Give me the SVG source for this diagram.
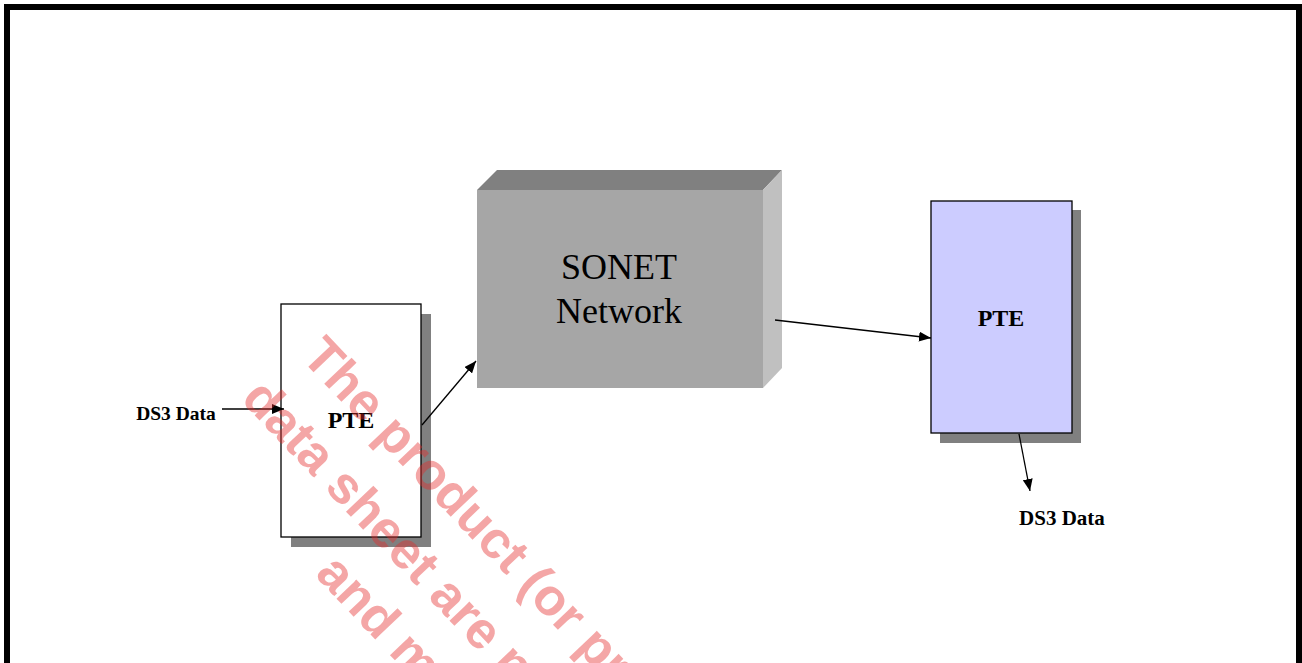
<svg xmlns="http://www.w3.org/2000/svg" width="1302" height="663" viewBox="0 0 1302 663">
<defs>
<style>
.lbl{font-family:"Liberation Serif","Times New Roman",serif;font-weight:bold;fill:#000}
.big{font-family:"Liberation Serif","Times New Roman",serif;font-size:36px;fill:#000}
.conn{stroke:#000;stroke-width:1.3;fill:none}
.wm{font-family:"Liberation Sans",Arial,sans-serif;font-size:52px;font-weight:bold;fill:#e42a2a;fill-opacity:0.42}
</style>
<marker id="arr" viewBox="0 0 12 10" refX="12" refY="5" markerWidth="12" markerHeight="10" markerUnits="userSpaceOnUse" orient="auto">
<path d="M0,0 L12,5 L0,10 Z" fill="#000"/>
</marker>
</defs>
<rect x="0" y="0" width="1302" height="663" fill="#fff"/>
<rect x="7" y="7" width="1292" height="720" fill="none" stroke="#000" stroke-width="6"/>

<g id="pte-left">
<rect x="291" y="314" width="140" height="233" fill="#808080"/>
<rect x="281" y="304" width="140" height="233" fill="#fff" stroke="#000" stroke-width="1.3"/>
<text class="lbl" x="351" y="428" font-size="24" text-anchor="middle">PTE</text>
</g>

<g id="sonet">
<polygon points="477,190 497,170 782,170 763,190" fill="#808080"/>
<polygon points="763,190 782,170 782,368 763,388" fill="#c0c0c0"/>
<rect x="477" y="190" width="286" height="198" fill="#a6a6a6"/>
<text class="big" x="619" y="279" text-anchor="middle">SONET</text>
<text class="big" x="619" y="323" text-anchor="middle">Network</text>
</g>

<g id="pte-right">
<rect x="940" y="210" width="141" height="233" fill="#808080"/>
<rect x="931" y="201" width="141" height="232" fill="#ccccff" stroke="#000" stroke-width="1.3"/>
<text class="lbl" x="1001" y="326" font-size="24" text-anchor="middle">PTE</text>
</g>

<g id="label-ds3-in">
<text class="lbl" x="176" y="420" font-size="19.5" text-anchor="middle">DS3 Data</text>
</g>
<g id="label-ds3-out">
<text class="lbl" x="1062" y="525" font-size="21" text-anchor="middle">DS3 Data</text>
</g>

<g id="connectors">
<line class="conn" x1="222" y1="409" x2="284" y2="409" marker-end="url(#arr)"/>
<line class="conn" x1="422" y1="425" x2="476" y2="361" marker-end="url(#arr)"/>
<line class="conn" x1="775" y1="320" x2="931" y2="338" marker-end="url(#arr)"/>
<line class="conn" x1="1019" y1="434" x2="1030" y2="491" marker-end="url(#arr)"/>
</g>

<g id="watermark">
<text class="wm" transform="translate(300,358) rotate(46.5)">The product (or pro</text>
<text class="wm" transform="translate(240,400) rotate(46.5)">data sheet are no</text>
<text class="wm" transform="translate(314,575) rotate(46.5)">and m</text>
</g>
</svg>
